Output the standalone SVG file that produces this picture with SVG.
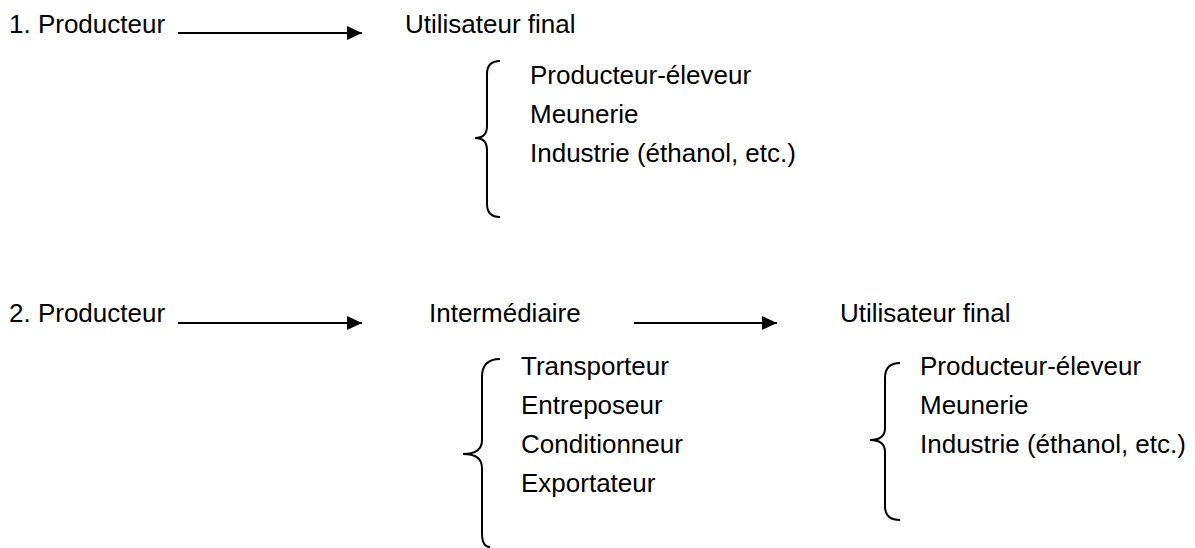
<svg xmlns="http://www.w3.org/2000/svg" width="1195" height="548" viewBox="0 0 1195 548">
<defs>
<marker id="ah" markerWidth="8" markerHeight="8" refX="7.5" refY="3.5" orient="auto" markerUnits="strokeWidth">
<path d="M0,0 L7.5,3.5 L0,7 Z" fill="#000"/>
</marker>
<style>
text{font-family:"Liberation Sans",Arial,sans-serif;font-size:26px;fill:#000}
.conn{stroke:#000;stroke-width:2;fill:none}
.brace{stroke:#000;stroke-width:2;fill:none}
</style>
</defs>
<rect width="1195" height="548" fill="#fff"/>
<g id="producteur1"><text x="9" y="33">1. Producteur</text></g>
<g id="utilisateur1"><text x="405" y="33">Utilisateur final</text></g>
<g id="list1">
<path class="brace" d="M500,61 Q487,61 487,74 L487,126 Q487,138 475,138 Q487,138 487,150 L487,204 Q487,217 500,217"/>
<text x="530" y="84">Producteur-éleveur</text>
<text x="530" y="123">Meunerie</text>
<text x="530" y="162">Industrie (éthanol, etc.)</text>
</g>
<g id="producteur2"><text x="9" y="322">2. Producteur</text></g>
<g id="intermediaire"><text x="429" y="322">Intermédiaire</text></g>
<g id="utilisateur2"><text x="840" y="322">Utilisateur final</text></g>
<g id="list2">
<path class="brace" d="M500,359 Q482,359 482,377 L482,440 Q482,454 463,454 Q482,454 482,468 L482,533 Q482,547 490,547"/>
<text x="521" y="375">Transporteur</text>
<text x="521" y="414">Entreposeur</text>
<text x="521" y="453">Conditionneur</text>
<text x="521" y="492">Exportateur</text>
</g>
<g id="list3">
<path class="brace" d="M900,363 Q885,363 885,378 L885,428 Q885,440 870,440 Q885,440 885,452 L885,506 Q885,520 900,520"/>
<text x="920" y="375">Producteur-éleveur</text>
<text x="920" y="414">Meunerie</text>
<text x="920" y="453">Industrie (éthanol, etc.)</text>
</g>
<g id="connectors">
<line class="conn" x1="178" y1="33" x2="362" y2="33" marker-end="url(#ah)"/>
<line class="conn" x1="178" y1="323" x2="362" y2="323" marker-end="url(#ah)"/>
<line class="conn" x1="634" y1="323" x2="777" y2="323" marker-end="url(#ah)"/>
</g>
</svg>
